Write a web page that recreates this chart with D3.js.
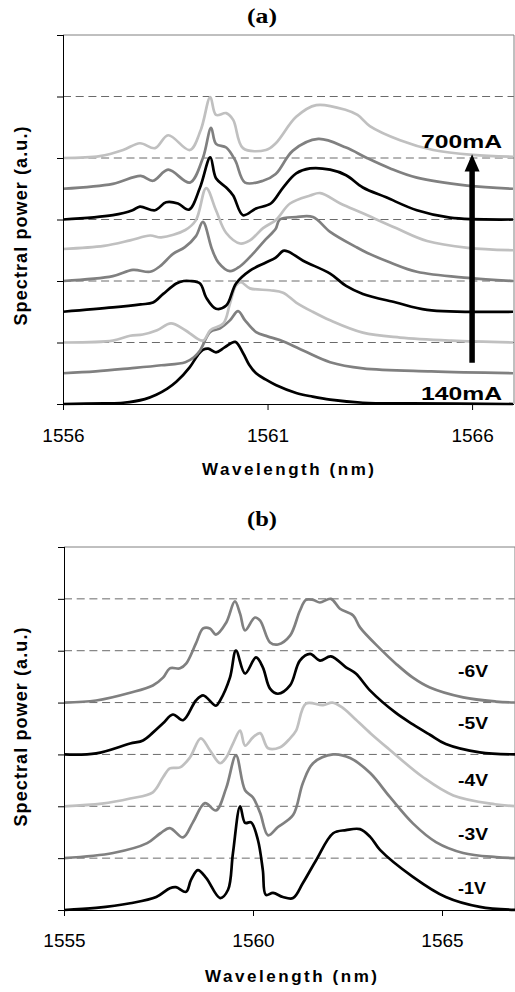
<!DOCTYPE html>
<html><head><meta charset="utf-8">
<script src="https://cdn.jsdelivr.net/npm/d3@7"></script>
<style>body{margin:0;background:#fff}svg{display:block}</style>
</head><body>
<svg id="c" width="515" height="992"></svg>
<script>
// ---------- DATA ----------
const titles = ["(a)", "(b)"];
const xTitle = "Wavelength (nm)";
const yTitle = "Spectral power (a.u.)";
const wlTicksA = [1556, 1561, 1566];
const wlTicksB = [1555, 1560, 1565];
const yTicksA = [0, 1, 2, 3, 4, 5, 6];
const yTicksB = [0, 1, 2, 3, 4, 5, 6, 7];
const currentLabels = ["140mA", "700mA"];
const voltageLabels = ["-1V", "-3V", "-4V", "-5V", "-6V"];
const offsetsA = [0, 0.5, 1, 1.5, 2, 2.5, 3, 3.5, 4];
const offsetsB = [0, 1, 2, 3, 4];

// panel (a): spectra from 140mA (bottom) to 700mA (top), [wavelength nm, relative power]
const specA1 = [[1556,0],[1557.0,0.01],[1557.47,0.02],[1558.0,0.08],[1558.28,0.15],[1558.55,0.25],[1558.77,0.36],[1559.1,0.6],[1559.3,0.8],[1559.42,0.88],[1559.55,0.9],[1559.74,0.84],[1559.95,0.92],[1560.21,1.01],[1560.4,0.83],[1560.55,0.64],[1560.72,0.5],[1560.95,0.4],[1561.2,0.31],[1561.7,0.18],[1562.1,0.12],[1562.53,0.07],[1563.33,0.02],[1564.5,0.01],[1567,0]];
const specA2 = [[1556,0],[1556.8,0.03],[1557.64,0.08],[1558.4,0.13],[1558.99,0.18],[1559.2,0.26],[1559.35,0.37],[1559.6,0.67],[1559.84,0.73],[1560.08,0.86],[1560.28,1.01],[1560.45,0.86],[1560.72,0.67],[1561.0,0.6],[1561.3,0.54],[1561.87,0.37],[1562.53,0.18],[1563.33,0.08],[1565,0.03],[1567,0]];
const specA3 = [[1556,0],[1557.22,0.03],[1557.64,0.11],[1557.95,0.13],[1558.3,0.2],[1558.64,0.31],[1558.99,0.2],[1559.42,0.03],[1559.6,0.2],[1559.92,0.31],[1560.08,0.63],[1560.23,0.93],[1560.35,0.98],[1560.57,0.88],[1561.06,0.85],[1561.38,0.81],[1561.7,0.65],[1562.1,0.5],[1562.53,0.36],[1563.33,0.16],[1564.24,0.08],[1565.5,0.03],[1567,0]];
const specA4 = [[1556,0],[1557.22,0.07],[1557.9,0.12],[1558.2,0.15],[1558.45,0.29],[1558.77,0.46],[1558.95,0.5],[1559.1,0.5],[1559.35,0.46],[1559.5,0.23],[1559.74,0.05],[1559.99,0.1],[1560.23,0.46],[1560.57,0.67],[1560.96,0.8],[1561.2,0.88],[1561.38,0.99],[1561.5,0.98],[1561.87,0.83],[1562.53,0.62],[1562.92,0.42],[1563.33,0.29],[1564.14,0.15],[1564.9,0.03],[1567,0]];
const specA5 = [[1556,0],[1557.22,0.08],[1557.71,0.18],[1558.13,0.15],[1558.37,0.24],[1558.69,0.44],[1558.98,0.55],[1559.25,0.73],[1559.42,0.96],[1559.64,0.52],[1559.8,0.3],[1560.08,0.16],[1560.33,0.24],[1560.64,0.44],[1560.96,0.68],[1561.2,0.85],[1561.3,1.0],[1561.7,1.04],[1562.11,1.04],[1562.53,0.8],[1563.17,0.55],[1563.43,0.46],[1564.0,0.3],[1564.65,0.15],[1565.9,0.05],[1567,0]];
const specA6 = [[1556,0.02],[1557.0,0.07],[1557.64,0.16],[1558.13,0.24],[1558.4,0.21],[1558.99,0.33],[1559.25,0.49],[1559.5,1.01],[1559.74,0.65],[1559.99,0.28],[1560.33,0.11],[1560.57,0.16],[1560.89,0.36],[1561.2,0.49],[1561.55,0.76],[1562.04,0.89],[1562.29,0.93],[1562.78,0.76],[1563.33,0.6],[1564.14,0.36],[1564.9,0.15],[1565.9,0.04],[1567,0]];
const specA7 = [[1556,0],[1557.22,0.07],[1557.7,0.15],[1557.88,0.21],[1558.25,0.15],[1558.52,0.28],[1558.81,0.26],[1559.08,0.16],[1559.35,0.52],[1559.6,1.01],[1559.74,0.67],[1559.99,0.52],[1560.16,0.39],[1560.4,0.07],[1560.72,0.18],[1561.08,0.26],[1561.38,0.52],[1561.7,0.75],[1562.04,0.83],[1562.53,0.81],[1562.92,0.72],[1563.33,0.52],[1563.9,0.36],[1564.65,0.15],[1565.46,0.03],[1567,0]];
const specA8 = [[1556,0],[1557.22,0.08],[1557.9,0.21],[1558.2,0.13],[1558.57,0.31],[1559.1,0.1],[1559.42,0.5],[1559.62,0.99],[1559.74,0.73],[1559.99,0.67],[1560.21,0.46],[1560.45,0.1],[1560.89,0.13],[1561.2,0.24],[1561.62,0.62],[1562.24,0.81],[1562.92,0.67],[1563.43,0.5],[1564.0,0.33],[1564.65,0.18],[1565.88,0.05],[1567,0]];
const specA9 = [[1556,0],[1556.9,0.03],[1557.47,0.13],[1557.88,0.24],[1558.25,0.16],[1558.57,0.37],[1559.1,0.13],[1559.37,0.46],[1559.6,0.99],[1559.74,0.7],[1559.99,0.73],[1560.16,0.62],[1560.4,0.16],[1560.96,0.13],[1561.2,0.24],[1561.7,0.67],[1562.19,0.86],[1562.92,0.78],[1563.2,0.7],[1563.5,0.52],[1564.24,0.29],[1565.05,0.13],[1566.02,0.05],[1567,0.02]];

// panel (b): spectra for -1V, -3V, -4V, -5V, -6V
const specB1 = [[1555,0],[1555.85,0.04],[1556.75,0.13],[1557.44,0.25],[1557.8,0.42],[1557.96,0.44],[1558.23,0.35],[1558.36,0.58],[1558.54,0.77],[1558.76,0.62],[1559.13,0.23],[1559.34,0.39],[1559.47,1.1],[1559.66,2.0],[1559.79,1.68],[1559.95,1.69],[1560.13,1.35],[1560.26,0.77],[1560.34,0.29],[1560.53,0.33],[1560.79,0.25],[1561.06,0.23],[1561.32,0.52],[1561.67,0.96],[1562.12,1.48],[1562.46,1.54],[1562.83,1.56],[1563.1,1.41],[1563.36,1.16],[1564.23,0.64],[1565.1,0.25],[1566.0,0.06],[1567,0]];
const specB2 = [[1555,0],[1556.3,0.1],[1557.2,0.29],[1557.55,0.48],[1557.8,0.58],[1558.15,0.4],[1558.41,0.69],[1558.73,1.06],[1559.02,0.92],[1559.29,1.35],[1559.55,1.98],[1559.79,1.31],[1560.0,1.17],[1560.19,0.87],[1560.4,0.44],[1560.66,0.6],[1561.06,0.83],[1561.32,1.45],[1561.59,1.83],[1562.12,2.0],[1562.57,1.93],[1563.1,1.64],[1563.62,1.18],[1564.23,0.67],[1564.84,0.31],[1565.56,0.1],[1566.43,0.02],[1567,0]];
const specB3 = [[1555,0],[1556.0,0.05],[1556.75,0.15],[1557.35,0.27],[1557.62,0.56],[1557.8,0.73],[1558.07,0.75],[1558.33,0.94],[1558.62,1.31],[1558.86,1.08],[1559.13,0.83],[1559.29,0.94],[1559.47,1.21],[1559.66,1.46],[1559.79,1.17],[1560.0,1.33],[1560.19,1.41],[1560.4,1.12],[1560.72,1.14],[1560.98,1.31],[1561.14,1.46],[1561.4,1.98],[1561.85,1.95],[1562.1,2.0],[1562.35,1.91],[1562.68,1.7],[1563.12,1.4],[1563.6,1.1],[1564.5,0.56],[1565.3,0.21],[1566.4,0.04],[1567,0]];
const specB4 = [[1555,0],[1555.85,0.02],[1556.75,0.21],[1557.09,0.27],[1557.35,0.42],[1557.62,0.6],[1557.88,0.77],[1558.15,0.66],[1558.49,1.04],[1558.68,1.14],[1559.02,0.94],[1559.13,1.04],[1559.39,1.48],[1559.55,2.0],[1559.79,1.56],[1560.08,1.87],[1560.26,1.68],[1560.45,1.27],[1560.66,1.17],[1560.98,1.33],[1561.24,1.81],[1561.51,1.94],[1561.77,1.81],[1562.06,1.89],[1562.46,1.68],[1562.72,1.56],[1563.1,1.23],[1563.78,0.8],[1564.23,0.58],[1564.68,0.38],[1565.1,0.2],[1566.0,0.04],[1567,0]];
const specB5 = [[1555,0],[1555.85,0.04],[1556.75,0.19],[1557.35,0.33],[1557.62,0.48],[1557.8,0.66],[1558.07,0.66],[1558.23,0.75],[1558.49,1.14],[1558.68,1.43],[1558.86,1.43],[1559.02,1.31],[1559.29,1.54],[1559.52,1.95],[1559.66,1.71],[1559.79,1.39],[1560.05,1.64],[1560.19,1.58],[1560.45,1.16],[1560.66,1.12],[1560.98,1.29],[1561.24,1.77],[1561.4,1.98],[1561.59,1.98],[1561.77,1.93],[1562.06,2.0],[1562.3,1.81],[1562.65,1.68],[1562.83,1.45],[1563.36,1.04],[1563.78,0.75],[1564.23,0.48],[1564.68,0.29],[1565.56,0.1],[1566.43,0.02],[1567,0]];

const spectraA = [specA1, specA2, specA3, specA4, specA5, specA6, specA7, specA8, specA9];
const spectraB = [specB1, specB2, specB3, specB4, specB5];

// ---------- STYLE ----------
const BLACK = "#000000", DARK = "#808080", LIGHT = "#c0c0c0";
const coloursA = [BLACK, DARK, LIGHT, BLACK, DARK, LIGHT, BLACK, DARK, LIGHT];
const coloursB = [BLACK, DARK, LIGHT, BLACK, DARK];
const SANS = "'Liberation Sans', Arial, sans-serif";
const SERIF = "'Liberation Serif', 'Times New Roman', serif";

const svg = d3.select("#c");

function panel(cfg) {
  const x = d3.scaleLinear().domain(cfg.xDomain).range(cfg.xRange);
  const y = d3.scaleLinear().domain(cfg.yDomain).range(cfg.yRange);
  const [L, R] = [cfg.xRange[0], cfg.plotRight];
  const [B, T] = cfg.yRange;
  const g = svg.append("g");
  const clipId = "clip" + cfg.id;
  svg.append("clipPath").attr("id", clipId).append("rect")
    .attr("x", L).attr("y", T - 3).attr("width", R - L + 2).attr("height", B - T + 6);

  // gridlines
  g.selectAll("line.grid").data(cfg.yTicks.filter(t => t > cfg.yDomain[0] && t < cfg.yDomain[1]))
    .enter().append("line")
    .attr("x1", L).attr("x2", R).attr("y1", d => y(d)).attr("y2", d => y(d))
    .attr("stroke", "#6a6a6a").attr("stroke-width", 1).attr("stroke-dasharray", "8,4.7");
  // plot border top/right
  g.append("line").attr("x1", L).attr("x2", R).attr("y1", y(cfg.yDomain[1])).attr("y2", y(cfg.yDomain[1]))
    .attr("stroke", "#808080").attr("stroke-width", 1);
  g.append("line").attr("x1", R).attr("x2", R).attr("y1", T).attr("y2", B)
    .attr("stroke", "#808080").attr("stroke-width", 1);

  // curves
  const line = d3.line().x(d => x(d[0])).y(d => y(d[1])).curve(d3.curveCatmullRom.alpha(0.5));
  const cg = g.append("g").attr("clip-path", `url(#${clipId})`);
  cfg.spectra.forEach((s, i) => {
    cg.append("path")
      .attr("d", line(s.map(p => [p[0], p[1] + cfg.offsets[i]])))
      .attr("fill", "none").attr("stroke", cfg.colours[i])
      .attr("stroke-width", 2.7).attr("stroke-linejoin", "round");
  });

  // axes
  const yAxis = d3.axisLeft(y).tickValues(cfg.yTicks).tickSize(6).tickFormat("");
  const ya = g.append("g").attr("transform", `translate(${L},0)`).call(yAxis);
  ya.select(".domain").attr("stroke", "#000").attr("d", `M0.5,${B}V${T}`);
  ya.selectAll(".tick line").attr("stroke", "#000");
  const xAxis = d3.axisBottom(x).tickValues(cfg.xTicks).tickSize(6).tickPadding(15).tickFormat(d3.format("d"));
  const xa = g.append("g").attr("transform", `translate(0,${B})`).call(xAxis);
  xa.select(".domain").attr("stroke", "#000").attr("d", `M${L},0.5H${R}`);
  xa.selectAll(".tick line").attr("stroke", "#000");
  xa.selectAll(".tick text").attr("font-family", SANS).attr("font-size", 19).attr("fill", "#000")
    .attr("dy", null).attr("y", cfg.tickBaseline - B);

  // titles
  svg.append("text").attr("x", cfg.titleX).attr("y", cfg.titleY).attr("text-anchor", "middle")
    .attr("font-family", SERIF).attr("font-weight", "bold").attr("font-size", 20)
    .attr("textLength", 30).attr("lengthAdjust", "spacingAndGlyphs").text(cfg.title);
  svg.append("text").attr("x", cfg.xTitleX).attr("y", cfg.xTitleY).attr("text-anchor", "middle")
    .attr("font-family", SANS).attr("font-weight", "bold").attr("font-size", 17)
    .attr("textLength", 172).attr("lengthAdjust", "spacing").text(xTitle);
  svg.append("text").attr("transform", `translate(27,${cfg.yTitleC}) rotate(-90)`).attr("text-anchor", "middle")
    .attr("font-family", SANS).attr("font-weight", "bold").attr("font-size", 18)
    .attr("textLength", 199).attr("lengthAdjust", "spacing").text(yTitle);
  return { x, y, g };
}

const pa = panel({
  id: "a", title: titles[0], xDomain: [1556, 1567], xRange: [63, 513], plotRight: 514,
  yDomain: [0, 6], yRange: [404, 35], yTicks: yTicksA, xTicks: wlTicksA,
  spectra: spectraA, offsets: offsetsA, colours: coloursA,
  tickBaseline: 442, titleX: 262, titleY: 23, xTitleX: 288, xTitleY: 475, yTitleC: 226
});
const pb = panel({
  id: "b", title: titles[1], xDomain: [1555, 1567], xRange: [64, 517.6], plotRight: 515,
  yDomain: [0, 7], yRange: [910, 547], yTicks: yTicksB, xTicks: wlTicksB,
  spectra: spectraB, offsets: offsetsB, colours: coloursB,
  tickBaseline: 947, titleX: 262, titleY: 526, xTitleX: 291, xTitleY: 982, yTitleC: 727
});

// annotations panel (a)
const arrowX = pa.x(1566);
pa.g.append("line").attr("x1", arrowX).attr("x2", arrowX).attr("y1", pa.y(0.67)).attr("y2", pa.y(3.8))
  .attr("stroke", "#000").attr("stroke-width", 5.5);
pa.g.append("path")
  .attr("d", `M${arrowX - 7.5},${pa.y(3.78)}L${arrowX + 7.5},${pa.y(3.78)}L${arrowX},${pa.y(4.06)}Z`)
  .attr("fill", "#000");
const labA = [[currentLabels[0], 400], [currentLabels[1], 148]];
labA.forEach(([t, yy]) => {
  pa.g.append("text").attr("x", 421).attr("y", yy).attr("font-family", SANS).attr("font-weight", "bold")
    .attr("font-size", 18).attr("textLength", 81).attr("lengthAdjust", "spacingAndGlyphs").text(t);
});
// voltage labels panel (b)
const vBase = [894, 840, 786, 729, 677];
voltageLabels.forEach((t, i) => {
  pb.g.append("text").attr("x", 458).attr("y", vBase[i]).attr("font-family", SANS).attr("font-weight", "bold")
    .attr("font-size", 17).attr("textLength", t === "-1V" ? 28 : 30).attr("lengthAdjust", "spacingAndGlyphs").text(t);
});
</script>
</body></html>
